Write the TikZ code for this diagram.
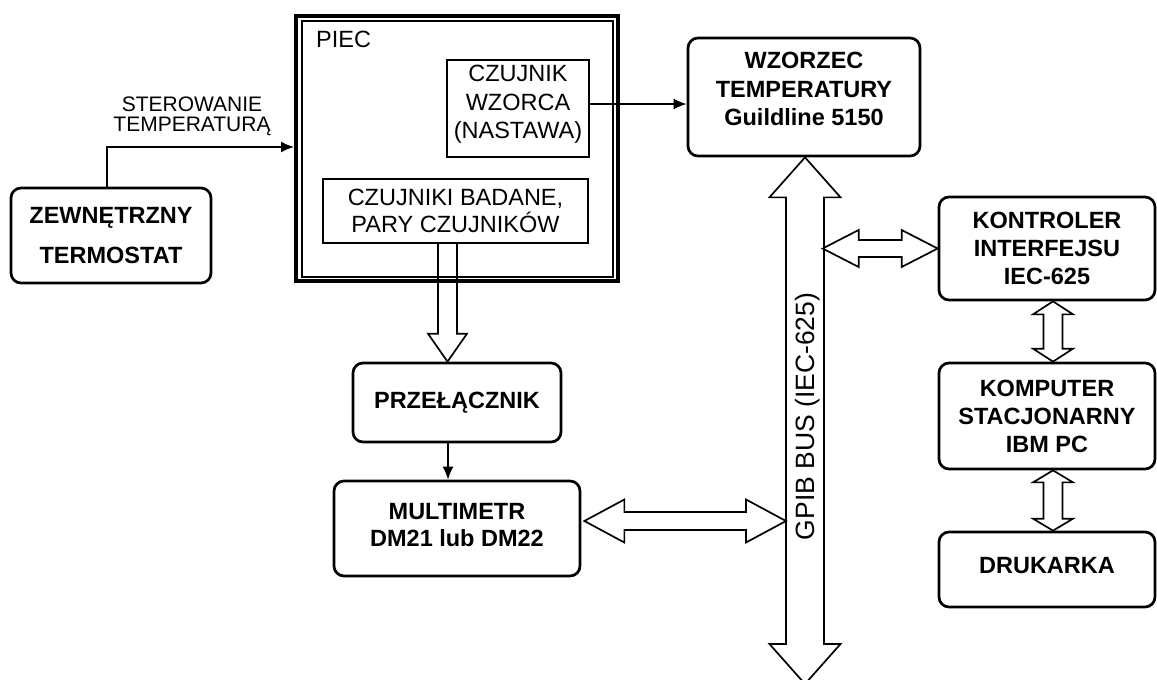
\documentclass[tikz,border=0pt]{standalone}
\usepackage{fontspec}
\setmainfont{Liberation Sans}
\usetikzlibrary{arrows.meta,calc}
\tikzset{
  rbox/.style={draw, line width=2.7pt, rounded corners=10pt, inner sep=0pt, align=center,
    font=\bfseries\fontsize{23.5}{28.5}\selectfont},
  sbox/.style={draw, line width=2.3pt, inner sep=0pt, align=center,
    font=\fontsize{23.5}{28.5}\selectfont},
  hollow/.style={draw, line width=1.7pt, fill=white, line join=miter},
  conn/.style={line width=1.6pt, -{Latex[length=13pt,width=11pt]}},
}
\newcommand\hollowH[5]{% left tip, right tip, head length, head half, shaft half
  \draw[hollow] (#1) -- ++(#3,-#4) -- ++(0,{#4-#5}) -- ($(#2)+(-#3,-#5)$) -- ++(0,{#5-#4})
    -- (#2) -- ++(-#3,#4) -- ++(0,{#5-#4}) -- ($(#1)+(#3,#5)$) -- ++(0,{#4-#5}) -- cycle;}
\newcommand\hollowV[5]{% top tip, bottom tip, head length, head half, shaft half
  \draw[hollow] (#1) -- ++(#4,#3) -- ++({#5-#4},0) -- ($(#2)+(#5,-#3)$) -- ++({#4-#5},0)
    -- (#2) -- ++(-#4,-#3) -- ++({#4-#5},0) -- ($(#1)+(-#5,#3)$) -- ++({#5-#4},0) -- cycle;}
\begin{document}
\begin{tikzpicture}[x=1pt,y=-1pt]
\useasboundingbox (0,0) rectangle (1157,680);

% boxes
\node[rbox, minimum width=200pt, minimum height=95pt] (term) at (111,235.5)
  {ZEWNĘTRZNY\\[12pt]TERMOSTAT};
\node[sbox, minimum width=142pt, minimum height=97pt, text depth=13pt] (cw) at (518,108.5)
  {CZUJNIK\\WZORCA\\(NASTAWA)};
\node[sbox, minimum width=265pt, minimum height=64pt, font=\fontsize{23.5}{27}\selectfont] (cb) at (455.5,211)
  {CZUJNIKI BADANE,\\PARY CZUJNIKÓW};
\node[rbox, minimum width=232pt, minimum height=118pt, text depth=16pt] (wz) at (804,97)
  {WZORZEC\\TEMPERATURY\\Guildline 5150};
\node[rbox, minimum width=208pt, minimum height=79pt] (prz) at (457,402.5) {PRZEŁĄCZNIK};
\node[rbox, minimum width=246pt, minimum height=95pt, text depth=7pt, font=\bfseries\fontsize{23.5}{27}\selectfont] (multi) at (457,528.5)
  {MULTIMETR\\DM21 lub DM22};
\node[rbox, minimum width=216pt, minimum height=103pt, font=\bfseries\fontsize{23.5}{28}\selectfont] (kon) at (1047,248.5)
  {KONTROLER\\INTERFEJSU\\IEC-625};
\node[rbox, minimum width=216pt, minimum height=106pt, font=\bfseries\fontsize{23.5}{28}\selectfont] (komp) at (1047,416)
  {KOMPUTER\\STACJONARNY\\IBM PC};
\node[rbox, minimum width=216pt, minimum height=75pt, text depth=9pt] (druk) at (1047,569.5) {DRUKARKA};

% hollow arrow from sensors to switch (drawn below furnace border)
\coordinate (cbout) at ([xshift=-8pt]cb.south);
\coordinate (prtop) at ([xshift=-9.5pt]prz.north);
\draw[hollow] ($(cbout)+(-9.5,0)$) -- ($(prtop)+(-9.5,-28)$) -- ++(-10,0) -- (prtop)
  -- ++(19.5,-28) -- ++(-10,0) -- ($(cbout)+(9.5,0)$);

% furnace
\node[draw, line width=4pt, minimum width=322pt, minimum height=265pt, inner sep=0pt] (piec) at (457,148.5) {};
\draw[line width=1.3pt] (302,21) rectangle (613,277);
\node[anchor=west, inner sep=0pt, font=\fontsize{23.5}{28}\selectfont] (pieclbl) at (316,39) {PIEC};

% plain connectors
\draw[conn] ([xshift=-4pt]term.north) |- ([yshift=1.5pt]piec.west);
\node[align=center, inner sep=0pt, font=\fontsize{21}{20}\selectfont] (ster) at (192,116)
  {STEROWANIE\\TEMPERATURĄ};
\draw[conn] ([yshift=4.5pt]cw.east) -- ([yshift=4.5pt]cw.east -| wz.west);
\draw[conn] ([xshift=-9pt]prz.south) -- ([xshift=-9pt]prz.south |- multi.north);

% GPIB bus
\coordinate (bustop) at ([xshift=1pt]wz.south);
\coordinate (busbot) at (805,684);
\hollowV{bustop}{busbot}{40}{35.5}{19}
\node[rotate=90, inner sep=0pt, font=\fontsize{26.5}{26.5}\selectfont] (gpib) at (808,416.5) {GPIB BUS (IEC-625)};

% bus connections
\coordinate (mR) at ([xshift=3pt,yshift=7.5pt]multi.east);
\coordinate (busL) at (786,521);
\hollowH{mR}{busL}{40}{21.5}{9}
\coordinate (konL) at (kon.west);
\coordinate (busR) at ([xshift=-115pt]kon.west);
\hollowH{busR}{konL}{36}{18.5}{8.5}
\coordinate (k1) at ([xshift=6pt]kon.south);
\coordinate (k2) at ([xshift=6pt]komp.north);
\hollowV{k1}{k2}{13}{20}{9.5}
\coordinate (k3) at ([xshift=6pt]komp.south);
\coordinate (k4) at ([xshift=6pt]druk.north);
\hollowV{k3}{k4}{12}{20}{9.5}
\end{tikzpicture}
\end{document}
